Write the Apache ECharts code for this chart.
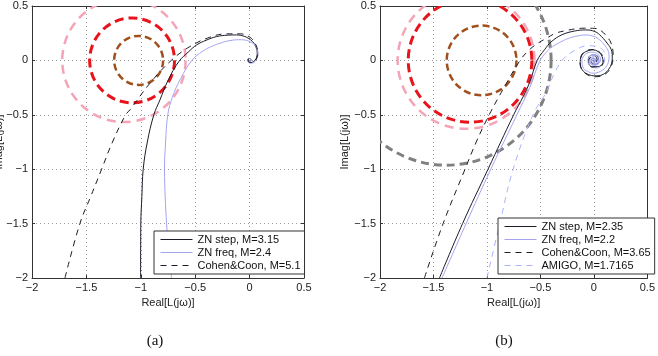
<!DOCTYPE html>
<html>
<head>
<meta charset="utf-8">
<script src="https://cdn.jsdelivr.net/npm/echarts@6/dist/echarts.min.js"></script>
<style>html,body{margin:0;padding:0;background:#fff;}#c{width:658px;height:356px;}</style>
</head>
<body>
<div id="c"></div>
<script>
// ---------- data ----------
const axisMin = -2, axisMax = 0.5, tickStep = 0.5;

// (a) M-circles: centre on real axis, radius
const leftCircleCx = [-1.155, -1.08, -1.02];
const leftCircleR  = [0.567, 0.39, 0.225];
// (b) M-circles
const rightCircleCx = [-1.38, -1.195, -1.158, -1.05];
const rightCircleR  = [0.98, 0.64, 0.578, 0.326];

// (a) Nyquist curves [Re, Im]
const aZNstep = [[-1.002,-2],[-1.0,-1.5],[-0.99,-1.25],[-0.978,-1.0],[-0.94,-0.75],[-0.88,-0.5],[-0.824,-0.363],[-0.748,-0.18],[-0.65,-0.01],[-0.56,0.08],[-0.487,0.142],[-0.4,0.185],[-0.303,0.219],[-0.2,0.232],[-0.12,0.234],[-0.05,0.222],[-0.013,0.204],[0.025,0.175],[0.049,0.142],[0.066,0.1],[0.07,0.066],[0.065,0.03],[0.049,0.0],[0.025,-0.017],[0.003,-0.02],[-0.015,-0.01],[-0.018,0.005],[-0.008,0.018],[0.008,0.015],[0.012,0.0],[0.002,-0.008],[-0.004,0]];
const aZNfreq = [[-0.717,-2],[-0.745,-1.75],[-0.763,-1.5],[-0.776,-1.25],[-0.782,-1.0],[-0.772,-0.75],[-0.752,-0.5],[-0.71,-0.34],[-0.635,-0.17],[-0.53,0.0],[-0.43,0.085],[-0.334,0.135],[-0.25,0.165],[-0.181,0.182],[-0.1,0.19],[-0.043,0.188],[0.005,0.17],[0.049,0.142],[0.07,0.1],[0.079,0.066],[0.072,0.03],[0.058,0],[0.04,-0.018],[0.018,-0.026],[-0.005,-0.022],[-0.018,-0.005],[-0.012,0.012],[0.004,0.015],[0.01,0.002],[0.002,-0.006],[-0.003,0]];
const aCohen = [[-1.697,-2],[-1.56,-1.5],[-1.46,-1.25],[-1.36,-1.0],[-1.26,-0.75],[-1.14,-0.5],[-1.1,-0.455],[-0.916,-0.21],[-0.72,0.0],[-0.549,0.127],[-0.365,0.213],[-0.211,0.244],[-0.089,0.244],[0.003,0.213],[0.058,0.142],[0.075,0.07],[0.06,0.01],[0.025,-0.02],[-0.01,-0.01],[-0.012,0.01],[0.002,0.012],[0.005,0]];

// (b) Nyquist curves [Re, Im]
const bZNstep = [[-1.444,-2],[-1.228,-1.5],[-0.99,-1.0],[-0.75,-0.5],[-0.66,-0.33],[-0.6,-0.2],[-0.53,0],[-0.46,0.1],[-0.4,0.17],[-0.3,0.235],[-0.18,0.27],[-0.08,0.28],[0.01,0.265],[0.07,0.22],[0.13,0.15],[0.162,0.1],[0.172,0.03],[0.165,-0.03],[0.14,-0.08],[0.1,-0.12],[0.05,-0.14],[0.009,-0.142],[-0.05,-0.13],[-0.098,-0.1],[-0.125,-0.05],[-0.128,-0.01],[-0.12,0.03],[-0.098,0.066],[-0.05,0.09],[-0.006,0.097],[0.04,0.08],[0.07,0.05],[0.085,-0.01],[0.07,-0.045],[0.04,-0.057],[0,-0.06],[-0.036,-0.05],[-0.052,0.005],[-0.04,0.04],[0,0.05],[0.04,0.03],[0.045,-0.01],[0.02,-0.035],[-0.015,-0.03],[-0.025,0],[-0.01,0.02],[0.01,0.015],[0.015,0],[0,-0.01],[-0.004,0]];
const bZNfreq = [[-1.42,-2],[-1.195,-1.5],[-0.964,-1.0],[-0.72,-0.5],[-0.6,-0.25],[-0.508,-0.01],[-0.45,0.07],[-0.386,0.127],[-0.3,0.175],[-0.234,0.204],[-0.15,0.225],[-0.082,0.234],[0,0.22],[0.055,0.188],[0.1,0.14],[0.13,0.097],[0.142,0.04],[0.14,0.005],[0.12,-0.05],[0.085,-0.087],[0.04,-0.11],[-0.006,-0.118],[-0.06,-0.1],[-0.098,-0.072],[-0.112,0.005],[-0.095,0.04],[-0.067,0.066],[-0.02,0.075],[0.025,0.066],[0.055,0.035],[0.064,0.005],[0.05,-0.025],[0.025,-0.041],[-0.005,-0.045],[-0.036,-0.026],[-0.05,0.01],[-0.03,0.045],[0.01,0.05],[0.045,0.025],[0.045,-0.015],[0.015,-0.04],[-0.02,-0.035],[-0.038,-0.005],[-0.025,0.028],[0.005,0.035],[0.03,0.015],[0.03,-0.012],[0.008,-0.027],[-0.017,-0.02],[-0.022,0.005],[-0.008,0.02],[0.012,0.015],[0.016,-0.004],[0.003,-0.014],[-0.01,-0.008],[-0.008,0.006],[0.004,0.007],[0.005,-0.002],[0,-0.003]];
const bCohen = [[-1.585,-2],[-1.41,-1.5],[-1.205,-1.0],[-1.1,-0.75],[-0.979,-0.5],[-0.84,-0.25],[-0.69,0],[-0.6,0.1],[-0.52,0.16],[-0.45,0.2],[-0.356,0.25],[-0.27,0.272],[-0.173,0.29],[-0.09,0.296],[0.009,0.294],[0.07,0.27],[0.12,0.22],[0.16,0.16],[0.18,0.05],[0.16,-0.06],[0.1,-0.13],[0.01,-0.15],[-0.09,-0.11],[-0.13,-0.02],[-0.1,0.07],[-0.01,0.1],[0.07,0.06],[0.09,-0.01],[0.05,-0.06],[-0.02,-0.06],[-0.05,-0.01],[-0.03,0.03],[0.01,0.04],[0.03,0.01],[0.01,-0.02],[-0.01,-0.01],[0,0]];
const bAMIGO = [[-1.0,-2],[-0.88,-1.5],[-0.755,-1.0],[-0.57,-0.5],[-0.45,-0.3],[-0.36,-0.1],[-0.28,0.02],[-0.18,0.09],[-0.06,0.135],[0.05,0.12],[0.1,0.06],[0.1,0.0],[0.07,-0.05],[0.02,-0.07],[-0.03,-0.055],[-0.055,-0.01],[-0.04,0.035],[0,0.05],[0.035,0.03],[0.04,-0.01],[0.015,-0.03],[-0.015,-0.025],[-0.02,0.005],[0,0.015],[0.01,0],[0,-0.005]];

const aNames = ['ZN step, M=3.15', 'ZN freq, M=2.4', 'Cohen&Coon, M=5.1'];
const bNames = ['ZN step, M=2.35', 'ZN freq, M=2.2', 'Cohen&Coon, M=3.65', 'AMIGO, M=1.7165'];
const xAxisTitle = 'Real[L(jω)]';
const yAxisTitle = 'Imag[L(jω)]';
const captions = ['(a)', '(b)'];

// ---------- styles ----------
const FONT = 'Liberation Sans, Arial, Helvetica, sans-serif';
const leftCircleStyle = [
  {color:'#f4a4b6', width:2.5, dash:[9,6]},
  {color:'#e8141c', width:3, dash:[9,5]},
  {color:'#a0501c', width:2.5, dash:[7,4]}
];
const rightCircleStyle = [
  {color:'#808080', width:3, dash:[8,5]},
  {color:'#f4a4b6', width:2.5, dash:[9,6]},
  {color:'#e8141c', width:3, dash:[9,5]},
  {color:'#a0501c', width:2.5, dash:[7,4]}
];
const blackCol = '#1c1c28', blueCol = '#a4a4f0', lightBlue = '#aab2ff';

function fmt(v){ return (v < 0 ? '\u2212' : '') + Math.abs(v); }

function mainX(grid){
  return {type:'value', gridIndex:grid, min:axisMin, max:axisMax, interval:tickStep, position:'bottom',
    name:xAxisTitle, nameLocation:'middle', nameGap:16,
    nameTextStyle:{fontFamily:FONT, fontSize:11, color:'#222'},
    axisLine:{show:true, onZero:false, lineStyle:{color:'#333', width:1}},
    axisTick:{show:true, inside:true, length:3, lineStyle:{color:'#333'}},
    axisLabel:{formatter:fmt, fontFamily:FONT, fontSize:11, color:'#222', margin:4},
    splitLine:{show:true, lineStyle:{color:'#9a9a9a', width:1, type:[1,3]}}};
}
function mainY(grid, withName){
  return {type:'value', gridIndex:grid, min:axisMin, max:axisMax, interval:tickStep, position:'left',
    name: withName ? yAxisTitle : '', nameLocation:'middle', nameGap:27, nameRotate:90,
    nameTextStyle:{fontFamily:FONT, fontSize:11, color:'#222'},
    axisLine:{show:true, onZero:false, lineStyle:{color:'#333', width:1}},
    axisTick:{show:true, inside:true, length:3, lineStyle:{color:'#333'}},
    axisLabel:{formatter:fmt, fontFamily:FONT, fontSize:11, color:'#222', margin:4},
    splitLine:{show:true, lineStyle:{color:'#9a9a9a', width:1, type:[1,3]}}};
}
function frameAxis(type, grid, pos){
  return {type:'value', gridIndex:grid, min:axisMin, max:axisMax, interval:tickStep, position:pos,
    axisLine:{show:true, onZero:false, lineStyle:{color:'#333', width:1}},
    axisTick:{show:true, inside:true, length:3, lineStyle:{color:'#333'}},
    axisLabel:{show:false}, splitLine:{show:false}};
}

function circleSeries(cx, r, styles, xi, yi){
  return {type:'custom', name:'circles'+xi, xAxisIndex:xi, yAxisIndex:yi, clip:true, silent:true, z:1,
    data: cx.map((c,i)=>[c, 0, r[i]]),
    encode:{x:0, y:1},
    renderItem: function(params, api){
      const st = styles[params.dataIndex];
      const c = api.coord([api.value(0), api.value(1)]);
      const s = api.size([api.value(2), api.value(2)]);
      const cs = params.coordSys;
      return {type:'circle', shape:{cx:c[0], cy:c[1], r:s[0]},
        style:{fill:null, stroke:st.color, lineWidth:st.width, lineDash:st.dash},
        clipPath:{type:'rect', shape:{x:cs.x, y:cs.y, width:cs.width, height:cs.height}}};
    }};
}
function lineSeries(name, data, color, dashed, xi, yi){
  return {type:'line', name:name, data:data, xAxisIndex:xi, yAxisIndex:yi, symbol:'none', showSymbol:false,
    smooth:0.4, clip:true, z:3, animation:false,
    lineStyle:{color:color, width:1, type: dashed ? [6,5] : 'solid'},
    itemStyle:{color:color}};
}

const chart = echarts.init(document.getElementById('c'), null, {renderer:'canvas'});
const legendBase = {orient:'vertical', itemWidth:32, itemHeight:11, itemGap:2, selectedMode:false,
  padding:[3,4,3,6], borderColor:'#333', borderWidth:1, backgroundColor:'#fff',
  lineStyle:{width:1}, itemStyle:{opacity:0},
  textStyle:{fontFamily:FONT, fontSize:11, color:'#111'}};

chart.setOption({
  animation:false,
  backgroundColor:'#fff',
  title:[
    {text:captions[0], left:150, top:329, textAlign:'center', textStyle:{fontFamily:'Liberation Serif, DejaVu Serif, serif', fontSize:15, fontWeight:'normal', color:'#111'}},
    {text:captions[1], left:499, top:329, textAlign:'center', textStyle:{fontFamily:'Liberation Serif, DejaVu Serif, serif', fontSize:15, fontWeight:'normal', color:'#111'}}
  ],
  graphic:[
    {type:'text', x:-1, y:142, rotation:Math.PI/2, silent:true,
     style:{text:yAxisTitle, font:'11px Liberation Sans, Arial, sans-serif', fill:'#222', textAlign:'center', textVerticalAlign:'middle'}}
  ],
  grid:[
    {left:32, top:6, width:272, height:272, containLabel:false},
    {left:380, top:6, width:273, height:272, containLabel:false}
  ],
  xAxis:[mainX(0), frameAxis('x',0,'top'), mainX(1), frameAxis('x',1,'top')],
  yAxis:[mainY(0,false), frameAxis('y',0,'right'), mainY(1,true), frameAxis('y',1,'right')],
  legend:[
    Object.assign({}, legendBase, {data:aNames, left:154, top:231}),
    Object.assign({}, legendBase, {data:bNames, left:498, top:218})
  ],
  series:[
    circleSeries(leftCircleCx, leftCircleR, leftCircleStyle, 0, 0),
    circleSeries(rightCircleCx, rightCircleR, rightCircleStyle, 2, 2),
    lineSeries(aNames[0], aZNstep, blackCol, false, 0, 0),
    lineSeries(aNames[1], aZNfreq, blueCol, false, 0, 0),
    lineSeries(aNames[2], aCohen, blackCol, true, 0, 0),
    lineSeries(bNames[0], bZNstep, blackCol, false, 2, 2),
    lineSeries(bNames[1], bZNfreq, blueCol, false, 2, 2),
    lineSeries(bNames[2], bCohen, blackCol, true, 2, 2),
    lineSeries(bNames[3], bAMIGO, lightBlue, true, 2, 2)
  ]
});
</script>
</body>
</html>
